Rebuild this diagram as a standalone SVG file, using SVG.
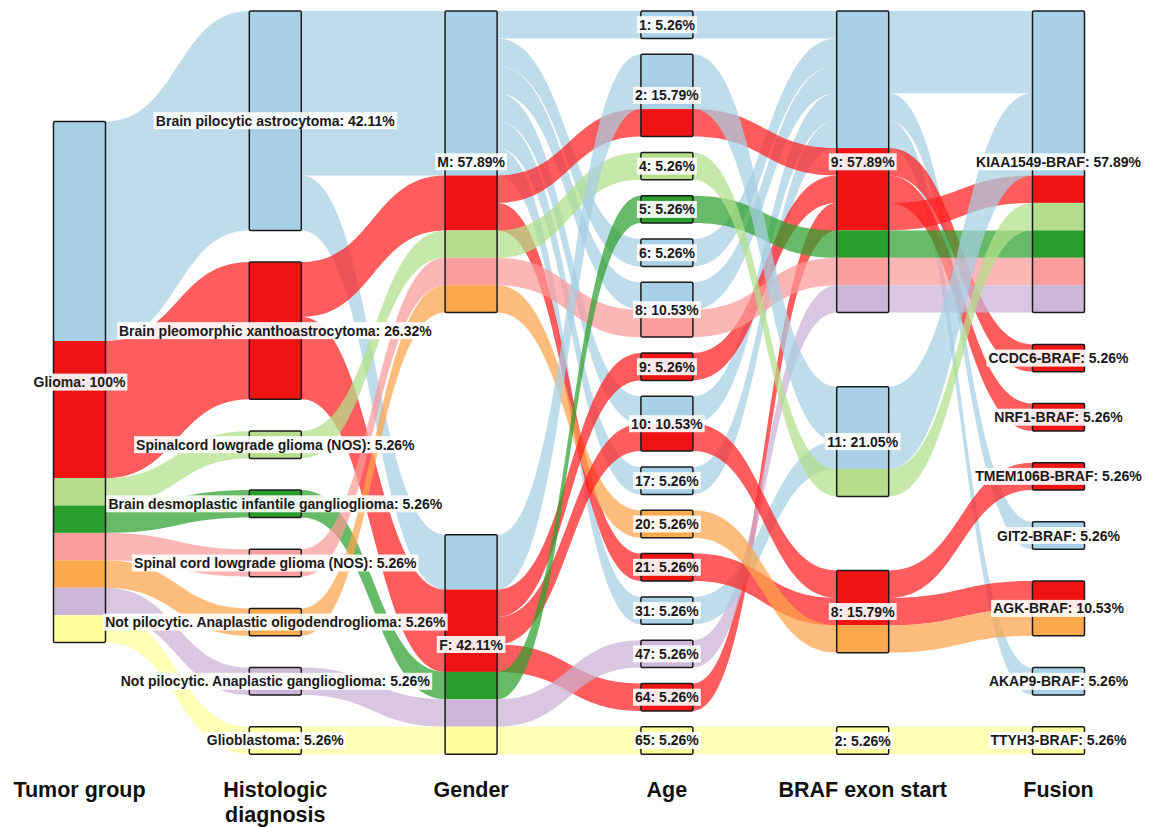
<svg xmlns="http://www.w3.org/2000/svg" width="1157" height="827" viewBox="0 0 1157 827">
<style>
.f{fill-opacity:0.72;stroke:none}
.fb{fill:#A6CEE3}.fr{fill:#FF1F1F}.flg{fill:#B2DF8A}.fg{fill:#2CA02C}.fp{fill:#FB9A99}.fo{fill:#FDA34A}.fl{fill:#CAB2D6}.fy{fill:#FFFF99}
.sb{fill:#A8D0E6}.sr{fill:#EE1414}.slg{fill:#B4DD8C}.sg{fill:#2A9E2A}.sp{fill:#FA9E9E}.so{fill:#FBA94C}.sl{fill:#CDB6D8}.sy{fill:#FFFF9C}
.box{fill:none;stroke:#1a1a1a;stroke-width:1.5}
.lb{fill:#ffffff;fill-opacity:0.9}
.lt{font-family:"Liberation Sans",Arial,sans-serif;font-weight:bold;font-size:14px;fill:#1a1a1a;text-anchor:middle}
.ax{font-family:"Liberation Sans",Arial,sans-serif;font-weight:bold;font-size:21.5px;fill:#111111;text-anchor:middle}
</style>
<rect width="1157" height="827" fill="#ffffff"/>
<g id="connectors">
<!-- Tumor group -> Histologic diagnosis -->
<path class="f fb" d="M105.5,121.6C177.4,121.6 177.4,11 249.3,11L249.3,230.4C177.4,230.4 177.4,341 105.5,341Z"/>
<path class="f fr" d="M105.5,341C177.4,341 177.4,262.1 249.3,262.1L249.3,399.2C177.4,399.2 177.4,478.1 105.5,478.1Z"/>
<path class="f flg" d="M105.5,478.1C177.4,478.1 177.4,430.9 249.3,430.9L249.3,458.4C177.4,458.4 177.4,505.5 105.5,505.5Z"/>
<path class="f fg" d="M105.5,505.5C177.4,505.5 177.4,490.1 249.3,490.1L249.3,517.5C177.4,517.5 177.4,532.9 105.5,532.9Z"/>
<path class="f fp" d="M105.5,532.9C177.4,532.9 177.4,549.3 249.3,549.3L249.3,576.7C177.4,576.7 177.4,560.3 105.5,560.3Z"/>
<path class="f fo" d="M105.5,560.3C177.4,560.3 177.4,608.4 249.3,608.4L249.3,635.8C177.4,635.8 177.4,587.7 105.5,587.7Z"/>
<path class="f fl" d="M105.5,587.7C177.4,587.7 177.4,667.6 249.3,667.6L249.3,695C177.4,695 177.4,615.2 105.5,615.2Z"/>
<path class="f fy" d="M105.5,615.2C177.4,615.2 177.4,726.7 249.3,726.7L249.3,754.2C177.4,754.2 177.4,642.6 105.5,642.6Z"/>
<!-- Histologic diagnosis -> Gender -->
<path class="f fb" d="M301.3,11L445.1,11L445.1,175.5L301.3,175.5Z"/>
<path class="f fb" d="M301.3,175.5C373.2,175.5 373.2,534.8 445.1,534.8L445.1,589.6C373.2,589.6 373.2,230.4 301.3,230.4Z"/>
<path class="f fr" d="M301.3,262.1C373.2,262.1 373.2,175.5 445.1,175.5L445.1,230.4C373.2,230.4 373.2,317 301.3,317Z"/>
<path class="f fr" d="M301.3,317C373.2,317 373.2,589.6 445.1,589.6L445.1,671.9C373.2,671.9 373.2,399.2 301.3,399.2Z"/>
<path class="f flg" d="M301.3,430.9C373.2,430.9 373.2,230.4 445.1,230.4L445.1,257.8C373.2,257.8 373.2,458.4 301.3,458.4Z"/>
<path class="f fg" d="M301.3,490.1C373.2,490.1 373.2,671.9 445.1,671.9L445.1,699.3C373.2,699.3 373.2,517.5 301.3,517.5Z"/>
<path class="f fp" d="M301.3,549.3C373.2,549.3 373.2,257.8 445.1,257.8L445.1,285.2C373.2,285.2 373.2,576.7 301.3,576.7Z"/>
<path class="f fo" d="M301.3,608.4C373.2,608.4 373.2,285.2 445.1,285.2L445.1,312.6C373.2,312.6 373.2,635.8 301.3,635.8Z"/>
<path class="f fl" d="M301.3,667.6C373.2,667.6 373.2,699.3 445.1,699.3L445.1,726.7C373.2,726.7 373.2,695 301.3,695Z"/>
<path class="f fy" d="M301.3,726.7L445.1,726.7L445.1,754.2L301.3,754.2Z"/>
<!-- Gender -> Age -->
<path class="f fb" d="M497.1,11L640.9,11L640.9,38.4L497.1,38.4Z"/>
<path class="f fb" d="M497.1,38.4C569,38.4 569,239 640.9,239L640.9,266.4C569,266.4 569,65.8 497.1,65.8Z"/>
<path class="f fb" d="M497.1,65.8C569,65.8 569,282.3 640.9,282.3L640.9,309.7C569,309.7 569,93.3 497.1,93.3Z"/>
<path class="f fb" d="M497.1,93.3C569,93.3 569,396.3 640.9,396.3L640.9,423.7C569,423.7 569,120.7 497.1,120.7Z"/>
<path class="f fb" d="M497.1,120.7C569,120.7 569,467 640.9,467L640.9,494.4C569,494.4 569,148.1 497.1,148.1Z"/>
<path class="f fb" d="M497.1,148.1C569,148.1 569,596.9 640.9,596.9L640.9,624.3C569,624.3 569,175.5 497.1,175.5Z"/>
<path class="f fr" d="M497.1,175.5C569,175.5 569,109.1 640.9,109.1L640.9,136.6C569,136.6 569,202.9 497.1,202.9Z"/>
<path class="f fr" d="M497.1,202.9C569,202.9 569,553.6 640.9,553.6L640.9,581C569,581 569,230.4 497.1,230.4Z"/>
<path class="f flg" d="M497.1,230.4C569,230.4 569,152.4 640.9,152.4L640.9,179.8C569,179.8 569,257.8 497.1,257.8Z"/>
<path class="f fp" d="M497.1,257.8C569,257.8 569,309.7 640.9,309.7L640.9,337.1C569,337.1 569,285.2 497.1,285.2Z"/>
<path class="f fo" d="M497.1,285.2C569,285.2 569,510.3 640.9,510.3L640.9,537.7C569,537.7 569,312.6 497.1,312.6Z"/>
<path class="f fb" d="M497.1,534.8C569,534.8 569,54.3 640.9,54.3L640.9,109.1C569,109.1 569,589.6 497.1,589.6Z"/>
<path class="f fr" d="M497.1,589.6C569,589.6 569,353 640.9,353L640.9,380.4C569,380.4 569,617.1 497.1,617.1Z"/>
<path class="f fr" d="M497.1,617.1C569,617.1 569,423.7 640.9,423.7L640.9,451.1C569,451.1 569,644.5 497.1,644.5Z"/>
<path class="f fr" d="M497.1,644.5C569,644.5 569,683.5 640.9,683.5L640.9,710.9C569,710.9 569,671.9 497.1,671.9Z"/>
<path class="f fg" d="M497.1,671.9C569,671.9 569,195.7 640.9,195.7L640.9,223.1C569,223.1 569,699.3 497.1,699.3Z"/>
<path class="f fl" d="M497.1,699.3C569,699.3 569,640.2 640.9,640.2L640.9,667.6C569,667.6 569,726.7 497.1,726.7Z"/>
<path class="f fy" d="M497.1,726.7L640.9,726.7L640.9,754.2L497.1,754.2Z"/>
<!-- Age -> BRAF exon start -->
<path class="f fb" d="M692.9,11L836.7,11L836.7,38.4L692.9,38.4Z"/>
<path class="f fb" d="M692.9,239C764.8,239 764.8,38.4 836.7,38.4L836.7,65.8C764.8,65.8 764.8,266.4 692.9,266.4Z"/>
<path class="f fb" d="M692.9,282.3C764.8,282.3 764.8,65.8 836.7,65.8L836.7,93.3C764.8,93.3 764.8,309.7 692.9,309.7Z"/>
<path class="f fb" d="M692.9,396.3C764.8,396.3 764.8,93.3 836.7,93.3L836.7,120.7C764.8,120.7 764.8,423.7 692.9,423.7Z"/>
<path class="f fb" d="M692.9,467C764.8,467 764.8,120.7 836.7,120.7L836.7,148.1C764.8,148.1 764.8,494.4 692.9,494.4Z"/>
<path class="f fr" d="M692.9,109.1C764.8,109.1 764.8,148.1 836.7,148.1L836.7,175.5C764.8,175.5 764.8,136.6 692.9,136.6Z"/>
<path class="f fr" d="M692.9,353C764.8,353 764.8,175.5 836.7,175.5L836.7,202.9C764.8,202.9 764.8,380.4 692.9,380.4Z"/>
<path class="f fr" d="M692.9,683.5C764.8,683.5 764.8,202.9 836.7,202.9L836.7,230.4C764.8,230.4 764.8,710.9 692.9,710.9Z"/>
<path class="f fg" d="M692.9,195.7C764.8,195.7 764.8,230.4 836.7,230.4L836.7,257.8C764.8,257.8 764.8,223.1 692.9,223.1Z"/>
<path class="f fp" d="M692.9,309.7C764.8,309.7 764.8,257.8 836.7,257.8L836.7,285.2C764.8,285.2 764.8,337.1 692.9,337.1Z"/>
<path class="f fl" d="M692.9,640.2C764.8,640.2 764.8,285.2 836.7,285.2L836.7,312.6C764.8,312.6 764.8,667.6 692.9,667.6Z"/>
<path class="f fb" d="M692.9,54.3C764.8,54.3 764.8,386.7 836.7,386.7L836.7,441.5C764.8,441.5 764.8,109.1 692.9,109.1Z"/>
<path class="f fb" d="M692.9,596.9C764.8,596.9 764.8,441.5 836.7,441.5L836.7,469C764.8,469 764.8,624.3 692.9,624.3Z"/>
<path class="f flg" d="M692.9,152.4C764.8,152.4 764.8,469 836.7,469L836.7,496.4C764.8,496.4 764.8,179.8 692.9,179.8Z"/>
<path class="f fr" d="M692.9,423.7C764.8,423.7 764.8,570.4 836.7,570.4L836.7,597.9C764.8,597.9 764.8,451.1 692.9,451.1Z"/>
<path class="f fr" d="M692.9,553.6C764.8,553.6 764.8,597.9 836.7,597.9L836.7,625.3C764.8,625.3 764.8,581 692.9,581Z"/>
<path class="f fo" d="M692.9,510.3C764.8,510.3 764.8,625.3 836.7,625.3L836.7,652.7C764.8,652.7 764.8,537.7 692.9,537.7Z"/>
<path class="f fy" d="M692.9,726.7L836.7,726.8L836.7,754.2L692.9,754.2Z"/>
<!-- BRAF exon start -> Fusion -->
<path class="f fb" d="M888.7,11L1032.5,11L1032.5,93.3L888.7,93.3Z"/>
<path class="f fb" d="M888.7,93.3C960.6,93.3 960.6,521.8 1032.5,521.8L1032.5,549.3C960.6,549.3 960.6,120.7 888.7,120.7Z"/>
<path class="f fb" d="M888.7,120.7C960.6,120.7 960.6,667.6 1032.5,667.6L1032.5,695C960.6,695 960.6,148.1 888.7,148.1Z"/>
<path class="f fr" d="M888.7,148.1C960.6,148.1 960.6,344.4 1032.5,344.4L1032.5,371.8C960.6,371.8 960.6,175.5 888.7,175.5Z"/>
<path class="f fr" d="M888.7,175.5C960.6,175.5 960.6,403.5 1032.5,403.5L1032.5,430.9C960.6,430.9 960.6,202.9 888.7,202.9Z"/>
<path class="f fr" d="M888.7,202.9C960.6,202.9 960.6,175.5 1032.5,175.5L1032.5,202.9C960.6,202.9 960.6,230.4 888.7,230.4Z"/>
<path class="f fg" d="M888.7,230.4L1032.5,230.4L1032.5,257.8L888.7,257.8Z"/>
<path class="f fp" d="M888.7,257.8L1032.5,257.8L1032.5,285.2L888.7,285.2Z"/>
<path class="f fl" d="M888.7,285.2L1032.5,285.2L1032.5,312.6L888.7,312.6Z"/>
<path class="f fb" d="M888.7,386.7C960.6,386.7 960.6,93.3 1032.5,93.3L1032.5,120.7C960.6,120.7 960.6,414.1 888.7,414.1Z"/>
<path class="f fb" d="M888.7,414.1C960.6,414.1 960.6,120.7 1032.5,120.7L1032.5,148.1C960.6,148.1 960.6,441.5 888.7,441.5Z"/>
<path class="f fb" d="M888.7,441.5C960.6,441.5 960.6,148.1 1032.5,148.1L1032.5,175.5C960.6,175.5 960.6,469 888.7,469Z"/>
<path class="f flg" d="M888.7,469C960.6,469 960.6,202.9 1032.5,202.9L1032.5,230.4C960.6,230.4 960.6,496.4 888.7,496.4Z"/>
<path class="f fr" d="M888.7,570.4C960.6,570.4 960.6,462.7 1032.5,462.7L1032.5,490.1C960.6,490.1 960.6,597.9 888.7,597.9Z"/>
<path class="f fr" d="M888.7,597.9C960.6,597.9 960.6,581 1032.5,581L1032.5,608.4C960.6,608.4 960.6,625.3 888.7,625.3Z"/>
<path class="f fo" d="M888.7,625.3C960.6,625.3 960.6,608.4 1032.5,608.4L1032.5,635.8C960.6,635.8 960.6,652.7 888.7,652.7Z"/>
<path class="f fy" d="M888.7,726.8L1032.5,726.7L1032.5,754.2L888.7,754.2Z"/>
</g>
<g id="node-glioma">
<rect class="sb" x="53.5" y="121.6" width="52" height="219.4"/>
<rect class="sr" x="53.5" y="341" width="52" height="137.1"/>
<rect class="slg" x="53.5" y="478.1" width="52" height="27.4"/>
<rect class="sg" x="53.5" y="505.5" width="52" height="27.4"/>
<rect class="sp" x="53.5" y="532.9" width="52" height="27.4"/>
<rect class="so" x="53.5" y="560.3" width="52" height="27.4"/>
<rect class="sl" x="53.5" y="587.7" width="52" height="27.5"/>
<rect class="sy" x="53.5" y="615.2" width="52" height="27.4"/>
<rect class="box" x="53.5" y="121.6" width="52" height="521" rx="1.5"/>
<rect class="lb" x="31.6" y="373.6" width="95.8" height="17"/>
<text class="lt" x="79.5" y="387.1">Glioma: 100%</text>
</g>
<g id="node-gender-m">
<rect class="sb" x="445.1" y="11" width="52" height="164.5"/>
<rect class="sr" x="445.1" y="175.5" width="52" height="54.9"/>
<rect class="slg" x="445.1" y="230.4" width="52" height="27.4"/>
<rect class="sp" x="445.1" y="257.8" width="52" height="27.4"/>
<rect class="so" x="445.1" y="285.2" width="52" height="27.4"/>
<rect class="box" x="445.1" y="11" width="52" height="301.6" rx="1.5"/>
<rect class="lb" x="435.25" y="153.3" width="71.7" height="17"/>
<text class="lt" x="471.1" y="166.8">M: 57.89%</text>
</g>
<g id="node-gender-f">
<rect class="sb" x="445.1" y="534.8" width="52" height="54.8"/>
<rect class="sr" x="445.1" y="589.6" width="52" height="82.3"/>
<rect class="sg" x="445.1" y="671.9" width="52" height="27.4"/>
<rect class="sl" x="445.1" y="699.3" width="52" height="27.4"/>
<rect class="sy" x="445.1" y="726.7" width="52" height="27.5"/>
<rect class="box" x="445.1" y="534.8" width="52" height="219.4" rx="1.5"/>
<rect class="lb" x="436.8" y="636" width="68.6" height="17"/>
<text class="lt" x="471.1" y="649.5">F: 42.11%</text>
</g>
<g id="node-age-1">
<rect class="sb" x="640.9" y="11" width="52" height="27.4"/>
<rect class="box" x="640.9" y="11" width="52" height="27.4" rx="1.5"/>
<rect class="lb" x="636.9" y="16.2" width="60" height="17"/>
<text class="lt" x="666.9" y="29.7">1: 5.26%</text>
</g>
<g id="node-age-2">
<rect class="sb" x="640.9" y="54.3" width="52" height="54.8"/>
<rect class="sr" x="640.9" y="109.1" width="52" height="27.5"/>
<rect class="box" x="640.9" y="54.3" width="52" height="82.3" rx="1.5"/>
<rect class="lb" x="633" y="86.95" width="67.8" height="17"/>
<text class="lt" x="666.9" y="100.45">2: 15.79%</text>
</g>
<g id="node-age-4">
<rect class="slg" x="640.9" y="152.4" width="52" height="27.4"/>
<rect class="box" x="640.9" y="152.4" width="52" height="27.4" rx="1.5"/>
<rect class="lb" x="636.9" y="157.6" width="60" height="17"/>
<text class="lt" x="666.9" y="171.1">4: 5.26%</text>
</g>
<g id="node-age-5">
<rect class="sg" x="640.9" y="195.7" width="52" height="27.4"/>
<rect class="box" x="640.9" y="195.7" width="52" height="27.4" rx="1.5"/>
<rect class="lb" x="636.9" y="200.9" width="60" height="17"/>
<text class="lt" x="666.9" y="214.4">5: 5.26%</text>
</g>
<g id="node-age-6">
<rect class="sb" x="640.9" y="239" width="52" height="27.4"/>
<rect class="box" x="640.9" y="239" width="52" height="27.4" rx="1.5"/>
<rect class="lb" x="636.9" y="244.2" width="60" height="17"/>
<text class="lt" x="666.9" y="257.7">6: 5.26%</text>
</g>
<g id="node-age-8">
<rect class="sb" x="640.9" y="282.3" width="52" height="27.4"/>
<rect class="sp" x="640.9" y="309.7" width="52" height="27.4"/>
<rect class="box" x="640.9" y="282.3" width="52" height="54.8" rx="1.5"/>
<rect class="lb" x="633" y="301.2" width="67.8" height="17"/>
<text class="lt" x="666.9" y="314.7">8: 10.53%</text>
</g>
<g id="node-age-9">
<rect class="sr" x="640.9" y="353" width="52" height="27.4"/>
<rect class="box" x="640.9" y="353" width="52" height="27.4" rx="1.5"/>
<rect class="lb" x="636.9" y="358.2" width="60" height="17"/>
<text class="lt" x="666.9" y="371.7">9: 5.26%</text>
</g>
<g id="node-age-10">
<rect class="sb" x="640.9" y="396.3" width="52" height="27.4"/>
<rect class="sr" x="640.9" y="423.7" width="52" height="27.4"/>
<rect class="box" x="640.9" y="396.3" width="52" height="54.8" rx="1.5"/>
<rect class="lb" x="629.1" y="415.2" width="75.6" height="17"/>
<text class="lt" x="666.9" y="428.7">10: 10.53%</text>
</g>
<g id="node-age-17">
<rect class="sb" x="640.9" y="467" width="52" height="27.4"/>
<rect class="box" x="640.9" y="467" width="52" height="27.4" rx="1.5"/>
<rect class="lb" x="633" y="472.2" width="67.8" height="17"/>
<text class="lt" x="666.9" y="485.7">17: 5.26%</text>
</g>
<g id="node-age-20">
<rect class="so" x="640.9" y="510.3" width="52" height="27.4"/>
<rect class="box" x="640.9" y="510.3" width="52" height="27.4" rx="1.5"/>
<rect class="lb" x="633" y="515.5" width="67.8" height="17"/>
<text class="lt" x="666.9" y="529">20: 5.26%</text>
</g>
<g id="node-age-21">
<rect class="sr" x="640.9" y="553.6" width="52" height="27.4"/>
<rect class="box" x="640.9" y="553.6" width="52" height="27.4" rx="1.5"/>
<rect class="lb" x="633" y="558.8" width="67.8" height="17"/>
<text class="lt" x="666.9" y="572.3">21: 5.26%</text>
</g>
<g id="node-age-31">
<rect class="sb" x="640.9" y="596.9" width="52" height="27.4"/>
<rect class="box" x="640.9" y="596.9" width="52" height="27.4" rx="1.5"/>
<rect class="lb" x="633" y="602.1" width="67.8" height="17"/>
<text class="lt" x="666.9" y="615.6">31: 5.26%</text>
</g>
<g id="node-age-47">
<rect class="sl" x="640.9" y="640.2" width="52" height="27.4"/>
<rect class="box" x="640.9" y="640.2" width="52" height="27.4" rx="1.5"/>
<rect class="lb" x="633" y="645.4" width="67.8" height="17"/>
<text class="lt" x="666.9" y="658.9">47: 5.26%</text>
</g>
<g id="node-age-64">
<rect class="sr" x="640.9" y="683.5" width="52" height="27.4"/>
<rect class="box" x="640.9" y="683.5" width="52" height="27.4" rx="1.5"/>
<rect class="lb" x="633" y="688.7" width="67.8" height="17"/>
<text class="lt" x="666.9" y="702.2">64: 5.26%</text>
</g>
<g id="node-age-65">
<rect class="sy" x="640.9" y="726.7" width="52" height="27.5"/>
<rect class="box" x="640.9" y="726.7" width="52" height="27.5" rx="1.5"/>
<rect class="lb" x="633" y="731.95" width="67.8" height="17"/>
<text class="lt" x="666.9" y="745.45">65: 5.26%</text>
</g>
<g id="node-exon-9">
<rect class="sb" x="836.7" y="11" width="52" height="137.1"/>
<rect class="sr" x="836.7" y="148.1" width="52" height="82.3"/>
<rect class="sg" x="836.7" y="230.4" width="52" height="27.4"/>
<rect class="sp" x="836.7" y="257.8" width="52" height="27.4"/>
<rect class="sl" x="836.7" y="285.2" width="52" height="27.4"/>
<rect class="box" x="836.7" y="11" width="52" height="301.6" rx="1.5"/>
<rect class="lb" x="828.8" y="153.3" width="67.8" height="17"/>
<text class="lt" x="862.7" y="166.8">9: 57.89%</text>
</g>
<g id="node-exon-11">
<rect class="sb" x="836.7" y="386.7" width="52" height="82.3"/>
<rect class="slg" x="836.7" y="469" width="52" height="27.4"/>
<rect class="box" x="836.7" y="386.7" width="52" height="109.7" rx="1.5"/>
<rect class="lb" x="824.9" y="433.05" width="75.6" height="17"/>
<text class="lt" x="862.7" y="446.55">11: 21.05%</text>
</g>
<g id="node-exon-8">
<rect class="sr" x="836.7" y="570.4" width="52" height="54.9"/>
<rect class="so" x="836.7" y="625.3" width="52" height="27.4"/>
<rect class="box" x="836.7" y="570.4" width="52" height="82.3" rx="1.5"/>
<rect class="lb" x="828.8" y="603.05" width="67.8" height="17"/>
<text class="lt" x="862.7" y="616.55">8: 15.79%</text>
</g>
<g id="node-exon-2">
<rect class="sy" x="836.7" y="726.8" width="52" height="27.4"/>
<rect class="box" x="836.7" y="726.8" width="52" height="27.4" rx="1.5"/>
<rect class="lb" x="832.7" y="732" width="60" height="17"/>
<text class="lt" x="862.7" y="745.5">2: 5.26%</text>
</g>
<g id="node-kiaa1549">
<rect class="sb" x="1032.5" y="11" width="52" height="164.5"/>
<rect class="sr" x="1032.5" y="175.5" width="52" height="27.4"/>
<rect class="slg" x="1032.5" y="202.9" width="52" height="27.5"/>
<rect class="sg" x="1032.5" y="230.4" width="52" height="27.4"/>
<rect class="sp" x="1032.5" y="257.8" width="52" height="27.4"/>
<rect class="sl" x="1032.5" y="285.2" width="52" height="27.4"/>
<rect class="box" x="1032.5" y="11" width="52" height="301.6" rx="1.5"/>
<rect class="lb" x="974.05" y="153.3" width="168.9" height="17"/>
<text class="lt" x="1058.5" y="166.8">KIAA1549-BRAF: 57.89%</text>
</g>
<g id="node-ccdc6">
<rect class="sr" x="1032.5" y="344.4" width="52" height="27.4"/>
<rect class="box" x="1032.5" y="344.4" width="52" height="27.4" rx="1.5"/>
<rect class="lb" x="986.5" y="349.6" width="144" height="17"/>
<text class="lt" x="1058.5" y="363.1">CCDC6-BRAF: 5.26%</text>
</g>
<g id="node-nrf1">
<rect class="sr" x="1032.5" y="403.5" width="52" height="27.4"/>
<rect class="box" x="1032.5" y="403.5" width="52" height="27.4" rx="1.5"/>
<rect class="lb" x="992.35" y="408.7" width="132.3" height="17"/>
<text class="lt" x="1058.5" y="422.2">NRF1-BRAF: 5.26%</text>
</g>
<g id="node-tmem106b">
<rect class="sr" x="1032.5" y="462.7" width="52" height="27.4"/>
<rect class="box" x="1032.5" y="462.7" width="52" height="27.4" rx="1.5"/>
<rect class="lb" x="973.25" y="467.9" width="170.5" height="17"/>
<text class="lt" x="1058.5" y="481.4">TMEM106B-BRAF: 5.26%</text>
</g>
<g id="node-git2">
<rect class="sb" x="1032.5" y="521.8" width="52" height="27.5"/>
<rect class="box" x="1032.5" y="521.8" width="52" height="27.5" rx="1.5"/>
<rect class="lb" x="995.05" y="527.05" width="126.9" height="17"/>
<text class="lt" x="1058.5" y="540.55">GIT2-BRAF: 5.26%</text>
</g>
<g id="node-agk">
<rect class="sr" x="1032.5" y="581" width="52" height="27.4"/>
<rect class="so" x="1032.5" y="608.4" width="52" height="27.4"/>
<rect class="box" x="1032.5" y="581" width="52" height="54.8" rx="1.5"/>
<rect class="lb" x="991.15" y="599.9" width="134.7" height="17"/>
<text class="lt" x="1058.5" y="613.4">AGK-BRAF: 10.53%</text>
</g>
<g id="node-akap9">
<rect class="sb" x="1032.5" y="667.6" width="52" height="27.4"/>
<rect class="box" x="1032.5" y="667.6" width="52" height="27.4" rx="1.5"/>
<rect class="lb" x="986.9" y="672.8" width="143.2" height="17"/>
<text class="lt" x="1058.5" y="686.3">AKAP9-BRAF: 5.26%</text>
</g>
<g id="node-ttyh3">
<rect class="sy" x="1032.5" y="726.7" width="52" height="27.5"/>
<rect class="box" x="1032.5" y="726.7" width="52" height="27.5" rx="1.5"/>
<rect class="lb" x="988.45" y="731.95" width="140.1" height="17"/>
<text class="lt" x="1058.5" y="745.45">TTYH3-BRAF: 5.26%</text>
</g>
<g id="node-bpa">
<rect class="sb" x="249.3" y="11" width="52" height="219.4"/>
<rect class="box" x="249.3" y="11" width="52" height="219.4" rx="1.5"/>
<rect class="lb" x="153.5" y="112.2" width="243.6" height="17"/>
<text class="lt" x="275.3" y="125.7">Brain pilocytic astrocytoma: 42.11%</text>
</g>
<g id="node-bpx">
<rect class="sr" x="249.3" y="262.1" width="52" height="137.1"/>
<rect class="box" x="249.3" y="262.1" width="52" height="137.1" rx="1.5"/>
<rect class="lb" x="117.3" y="322.15" width="316" height="17"/>
<text class="lt" x="275.3" y="335.65">Brain pleomorphic xanthoastrocytoma: 26.32%</text>
</g>
<g id="node-scl">
<rect class="slg" x="249.3" y="430.9" width="52" height="27.5"/>
<rect class="box" x="249.3" y="430.9" width="52" height="27.5" rx="1.5"/>
<rect class="lb" x="134.05" y="436.15" width="282.5" height="17"/>
<text class="lt" x="275.3" y="449.65">Spinalcord lowgrade glioma (NOS): 5.26%</text>
</g>
<g id="node-bdig">
<rect class="sg" x="249.3" y="490.1" width="52" height="27.4"/>
<rect class="box" x="249.3" y="490.1" width="52" height="27.4" rx="1.5"/>
<rect class="lb" x="106.35" y="495.3" width="337.9" height="17"/>
<text class="lt" x="275.3" y="508.8">Brain desmoplastic infantile ganglioglioma: 5.26%</text>
</g>
<g id="node-spc">
<rect class="sp" x="249.3" y="549.3" width="52" height="27.4"/>
<rect class="box" x="249.3" y="549.3" width="52" height="27.4" rx="1.5"/>
<rect class="lb" x="132.1" y="554.5" width="286.4" height="17"/>
<text class="lt" x="275.3" y="568">Spinal cord lowgrade glioma (NOS): 5.26%</text>
</g>
<g id="node-oligo">
<rect class="so" x="249.3" y="608.4" width="52" height="27.4"/>
<rect class="box" x="249.3" y="608.4" width="52" height="27.4" rx="1.5"/>
<rect class="lb" x="102.95" y="613.6" width="344.7" height="17"/>
<text class="lt" x="275.3" y="627.1">Not pilocytic. Anaplastic oligodendroglioma: 5.26%</text>
</g>
<g id="node-gang">
<rect class="sl" x="249.3" y="667.6" width="52" height="27.4"/>
<rect class="box" x="249.3" y="667.6" width="52" height="27.4" rx="1.5"/>
<rect class="lb" x="118.4" y="672.8" width="313.8" height="17"/>
<text class="lt" x="275.3" y="686.3">Not pilocytic. Anaplastic ganglioglioma: 5.26%</text>
</g>
<g id="node-gbm">
<rect class="sy" x="249.3" y="726.7" width="52" height="27.5"/>
<rect class="box" x="249.3" y="726.7" width="52" height="27.5" rx="1.5"/>
<rect class="lb" x="204.85" y="731.95" width="140.9" height="17"/>
<text class="lt" x="275.3" y="745.45">Glioblastoma: 5.26%</text>
</g>
<g id="axis-titles">
<text class="ax" x="79.5" y="797">Tumor group</text>
<text class="ax" x="275.3" y="797">Histologic</text>
<text class="ax" x="275.3" y="822">diagnosis</text>
<text class="ax" x="471.1" y="797">Gender</text>
<text class="ax" x="666.9" y="797">Age</text>
<text class="ax" x="862.7" y="797">BRAF exon start</text>
<text class="ax" x="1058.5" y="797">Fusion</text>
</g>
</svg>
